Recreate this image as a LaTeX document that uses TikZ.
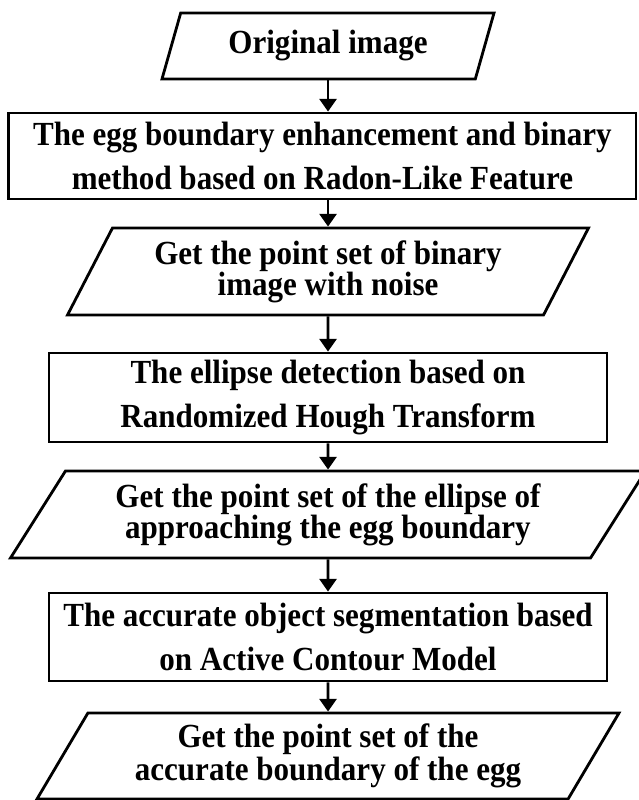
\documentclass[tikz,border=0pt]{standalone}
\usepackage{fontspec}
\setmainfont{Liberation Serif}[FakeStretch=0.92]
\usetikzlibrary{shapes.geometric,positioning,arrows.meta}

\begin{document}
\begin{tikzpicture}[
	on grid,
	line width=2pt,
	>={Triangle[width=12pt,length=9pt]},
	proc/.style={
		rectangle,
		draw,
		align=center,
		inner sep=0pt,
		font=\fontsize{24}{31}\selectfont\bfseries
	},
	data/.style={
		trapezium,
		trapezium stretches body,
		draw,
		align=center,
		inner sep=0pt,
		font=\fontsize{24}{22}\selectfont\bfseries
	}]

	\useasboundingbox (0,0) rectangle (15.95,-20);

	\node[data, trapezium left angle=58.8, trapezium right angle=121.2,
		minimum width=8.3cm, minimum height=1.65cm] (s_0) at (8.2,-1.15) {Original image};
	\node[proc, minimum width=15.675cm, minimum height=2.15cm,
		below=2.75cm of s_0, xshift=-0.14cm] (s_1)
		{The egg boundary enhancement and binary\\method based on Radon-Like Feature};
	\node[data, trapezium left angle=54.1, trapezium right angle=125.9,
		minimum width=13.025cm, minimum height=2.175cm,
		below=2.8875cm of s_1, xshift=0.14cm] (s_2)
		{Get the point set of binary\\image with noise};
	\node[proc, minimum width=13.95cm, minimum height=2.225cm, below=3.15cm of s_2] (s_3)
		{The ellipse detection based on\\Randomized Hough Transform};
	\node[data, trapezium left angle=48.5, trapezium right angle=131.5,
		minimum width=15.875cm, minimum height=2.175cm, below=2.925cm of s_3] (s_4)
		{Get the point set of the ellipse of\\approaching the egg boundary};
	\node[proc, minimum width=13.95cm, minimum height=2.2cm, below=3.0625cm of s_4] (s_5)
		{The accurate object segmentation based\\on Active Contour Model};
	\node[data, trapezium left angle=51.3, trapezium right angle=128.7,
		minimum width=14.55cm, minimum height=2.15cm, below=2.975cm of s_5] (s_6)
		{Get the point set of the\\accurate boundary of the egg};

	\path[->]
	 (s_0.south) edge (s_0.south |- s_1.north)
	 (s_2.north |- s_1.south) edge (s_2.north)
	 (s_2.south) edge (s_3.north)
	 (s_3.south) edge (s_4.north)
	 (s_4.south) edge (s_5.north)
	 (s_5.south) edge (s_6.north);
\end{tikzpicture}
\end{document}
